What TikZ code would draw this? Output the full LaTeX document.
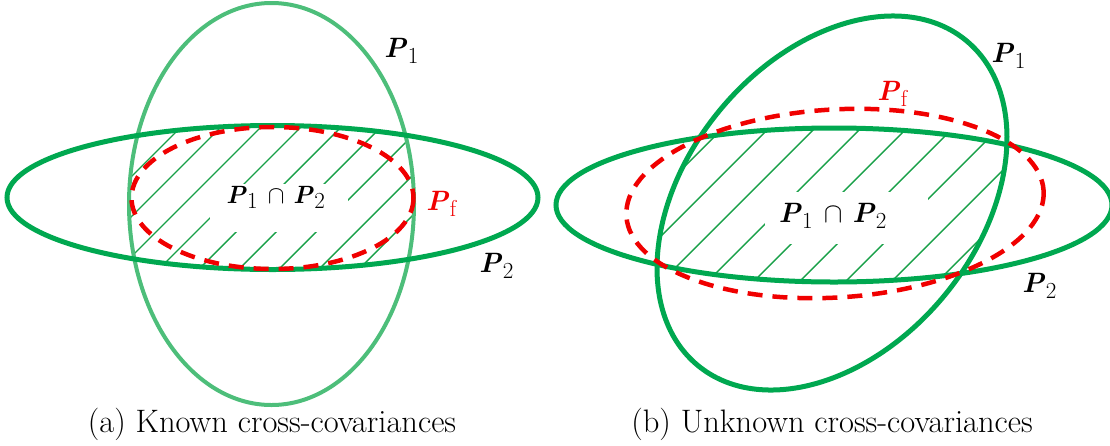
\RequirePackage{fix-cm}
\documentclass[tikz,border=0pt]{standalone}
\definecolor{lightgrn}{RGB}{77,190,122}
\definecolor{darkgrn}{RGB}{0,168,80}
\definecolor{hatchgrn}{RGB}{24,160,72}
\definecolor{redd}{RGB}{240,0,0}
\newcommand{\PLab}[1]{\textbf{\textit{P}}\kern0.5pt\raisebox{-0.22em}{\fontsize{23}{23}\selectfont #1}}
\tikzset{
  ellA/.style={draw=lightgrn, line width=4pt},
  ellB/.style={draw=darkgrn, line width=5pt},
  fused/.style={draw=redd, line width=4.5pt, dash pattern=on 15pt off 10pt},
  hatchline/.style={draw=hatchgrn, line width=1.4pt},
  lab/.style={inner sep=0pt, anchor=base west, font=\fontsize{28}{32}\selectfont},
  captxt/.style={inner sep=0pt, anchor=base, font=\fontsize{32.5}{37}\selectfont},
  gapbox/.style={fill=white, draw=none}
}
\begin{document}
\begin{tikzpicture}[x=1pt, y=-1pt]
\useasboundingbox (0,0) rectangle (1110,445);

% ---------- (a) known cross-covariances ----------
\begin{scope}
  \clip (271.5,204) ellipse [x radius=142.5, y radius=201];
  \clip (272.5,197.5) ellipse [x radius=265.5, y radius=72];
  \foreach \i in {-6,...,8} {
    \draw[hatchline] ({188+40*\i-250},450) -- ({188+40*\i+250},-50);
  }
\end{scope}
\fill[gapbox] (210,184) rectangle (348,232);
\path[ellA] (271.5,204) ellipse [x radius=142.5, y radius=201];
\path[ellB] (272.5,197.5) ellipse [x radius=265.5, y radius=72];
\path[fused] (272.5,198) ellipse [x radius=141, y radius=71];

\node[lab] (a1) at (384,57) {\PLab{1}};
\node[lab, text=redd] (af) at (426,210) {\PLab{f}};
\node[lab] (a2) at (479,272) {\PLab{2}};
\node[lab, anchor=base, font=\fontsize{25}{29}\selectfont] (a12) at (275.5,203) {\PLab{1}\hspace{0.4em}$\cap$\hspace{0.35em}\PLab{2}};
\node[captxt] (capa) at (272,432) {(a) Known cross-covariances};

% ---------- (b) unknown cross-covariances ----------
\begin{scope}
  \clip[rotate around={50.4:(832,203)}] (832,203) ellipse [x radius=210.7, y radius=145.6];
  \clip (834,205) ellipse [x radius=278, y radius=77];
  \foreach \i in {-6,...,7} {
    \draw[hatchline] ({789+46*\i-250},450) -- ({789+46*\i+250},-50);
  }
\end{scope}
\fill[gapbox] (765,192) rectangle (928,244);
\path[ellB, rotate around={50.4:(832,203)}] (832,203) ellipse [x radius=210.7, y radius=145.6];
\path[ellB] (834,205) ellipse [x radius=278, y radius=77];
\path[fused, rotate around={3.5:(835,203.5)}] (835,203.5) ellipse [x radius=209, y radius=94];

\node[lab] (b1) at (991,62) {\PLab{1}};
\node[lab, text=redd] (bf) at (877,100) {\PLab{f}};
\node[lab] (b2) at (1022,292) {\PLab{2}};
\node[lab, anchor=base] (b12) at (832.5,222) {\PLab{1}\hspace{0.4em}$\cap$\hspace{0.35em}\PLab{2}};
\node[captxt] (capb) at (832,432) {(b) Unknown cross-covariances};
\end{tikzpicture}
\end{document}
